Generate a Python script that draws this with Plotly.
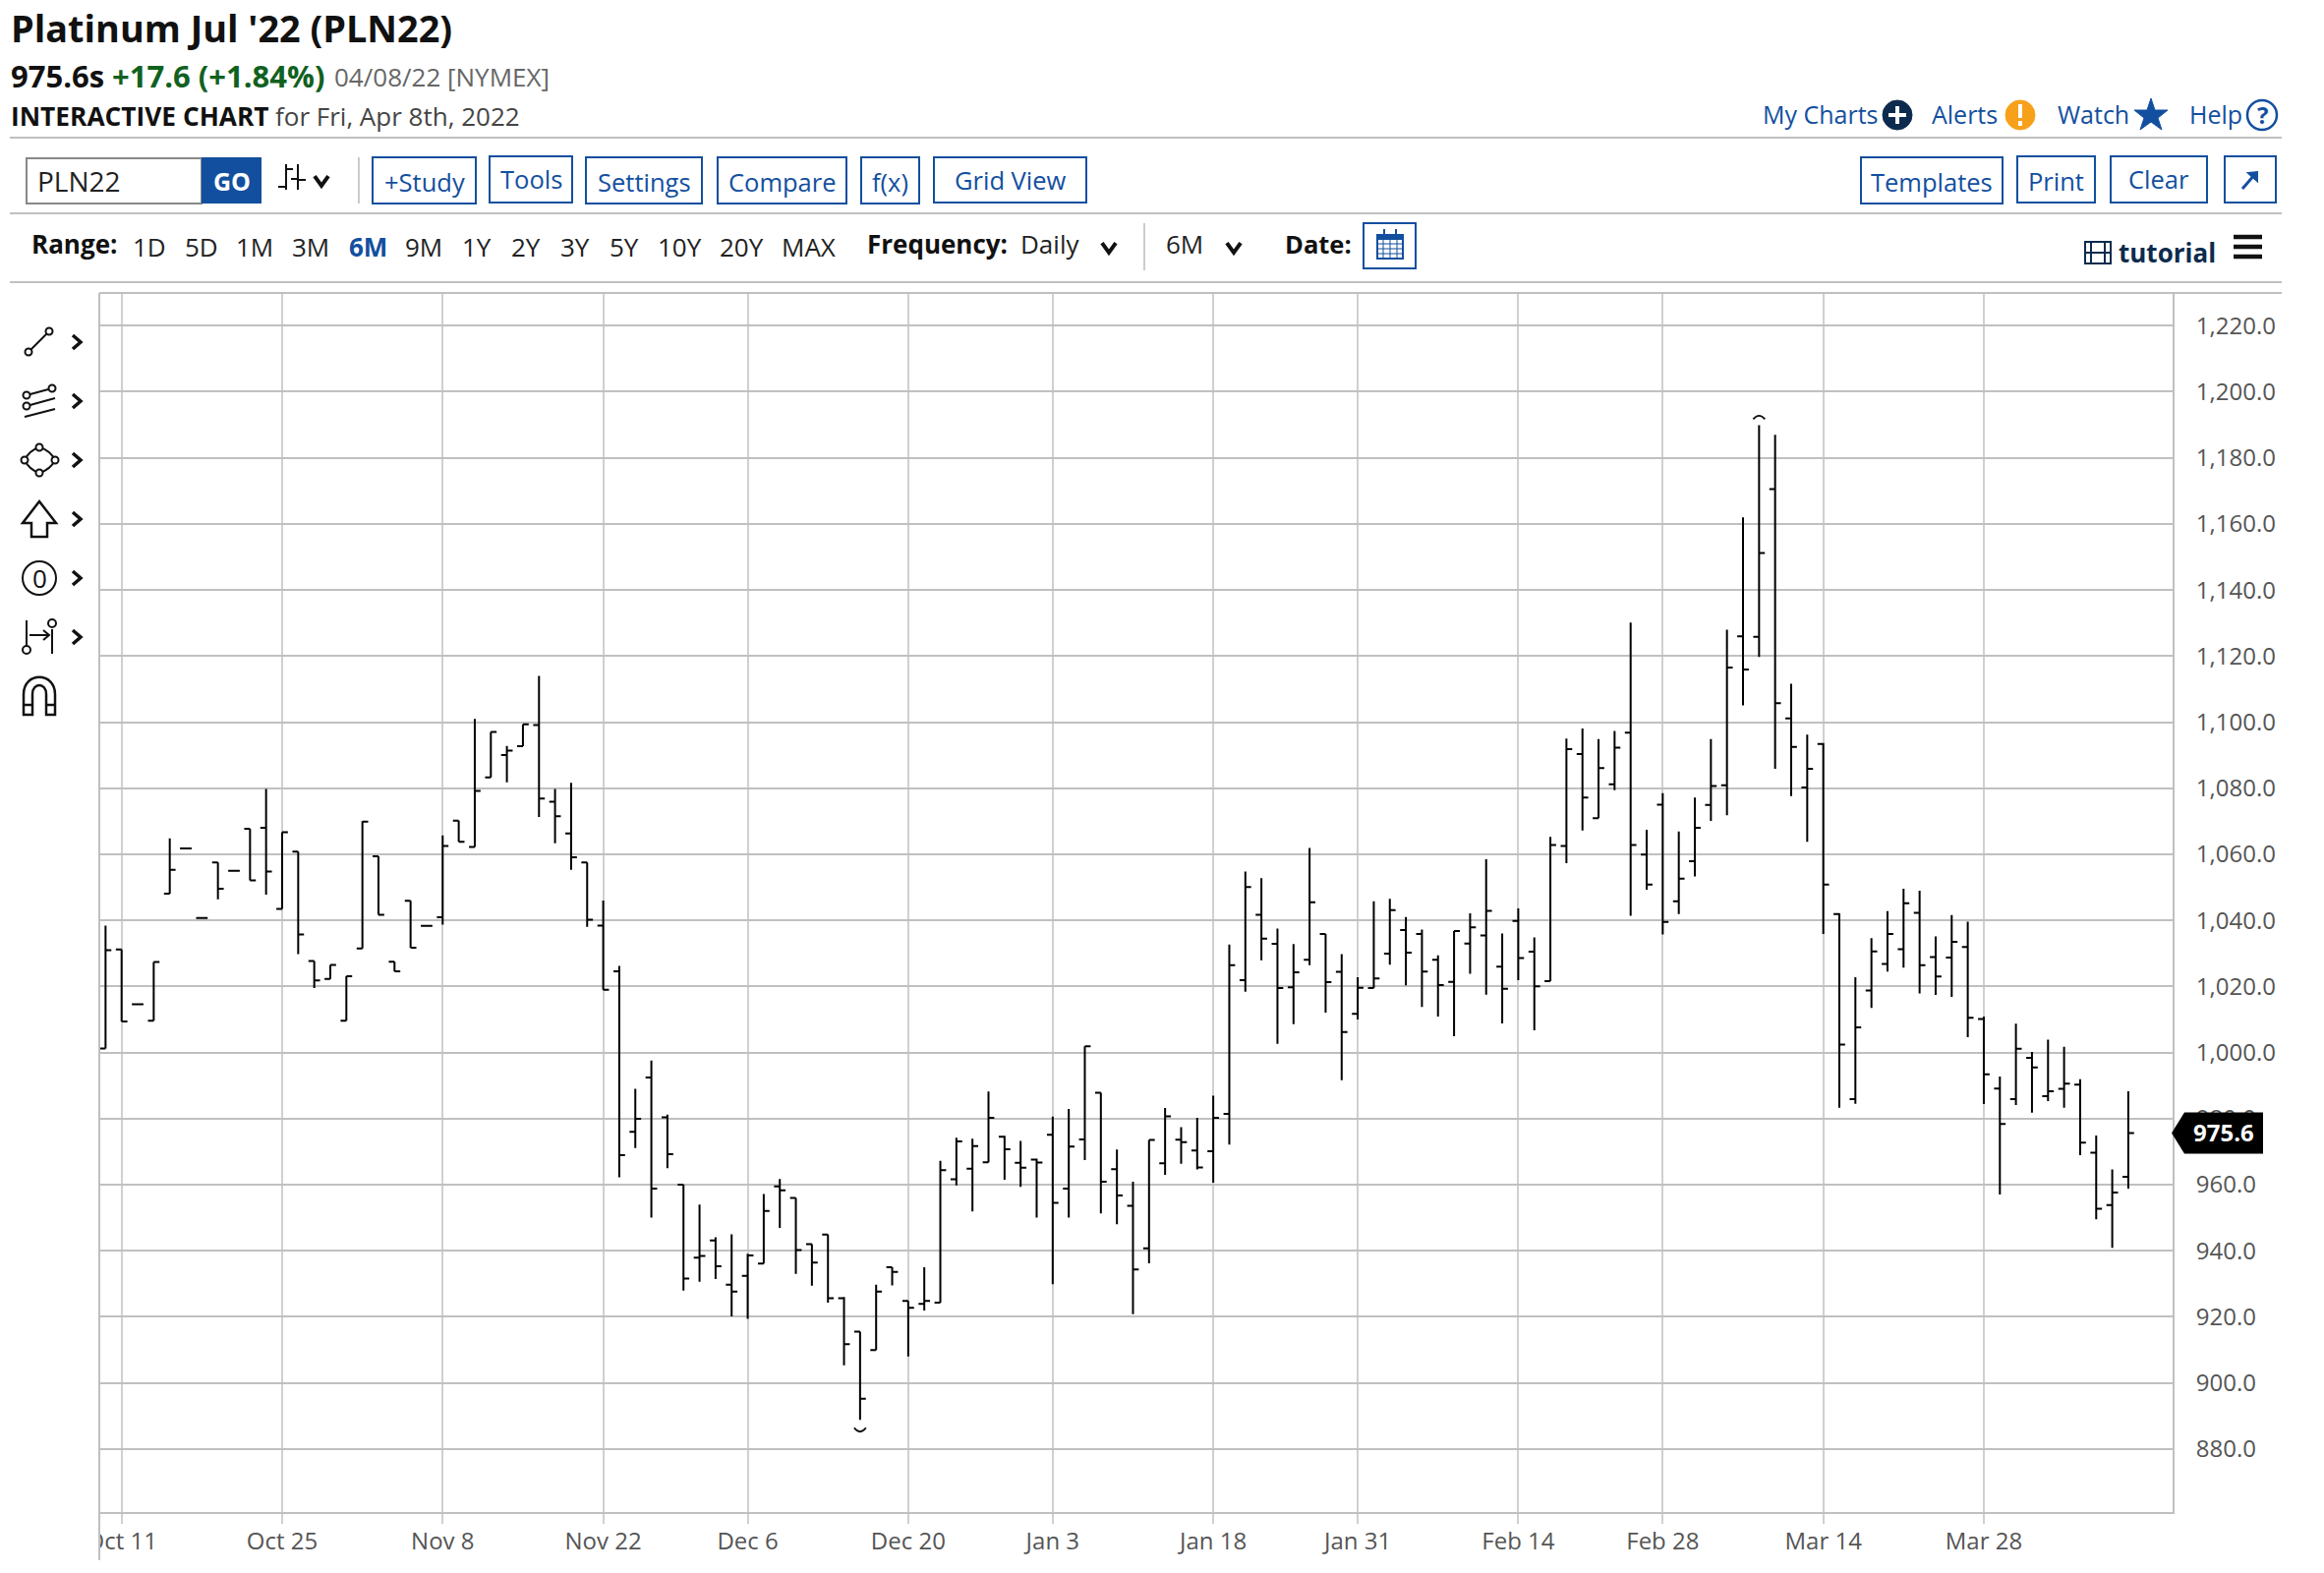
import pandas as pd
import plotly.graph_objects as go

# ---------- data ----------
holidays = ["2021-11-25", "2021-12-24", "2022-01-17", "2022-02-21"]
dates = [d.strftime("%Y-%m-%d") for d in pd.bdate_range("2021-10-08", "2022-04-08", freq="C", holidays=holidays)]

opens = [1001.2,1031.2,1014.6,1009.6,1048.1,1061.8,1040.7,1057.5,1055.0,1067.7,
         1068.0,1043.5,1060.8,1027.7,1022.3,1009.6,1031.5,1059.4,1027.5,1045.9,
         1038.3,1040.9,1070.2,1062.2,1083.3,1090.0,1092.7,1099.1,1075.9,1066.3,
         1057.5,1038.4,1024.6,976.0,992.4,980.4,960.0,937.9,943.1,929.7,
         932.4,936.1,959.5,956.0,942.0,944.9,925.6,915.5,909.9,935.0,
         924.8,923.9,924.3,961.6,964.8,966.8,974.5,966.6,967.6,975.1,
         958.8,973.7,987.8,964.7,953.6,940.7,966.5,973.6,970.3,970.1,
         981.4,1021.9,1041.7,1032.9,1019.7,1028.1,1035.9,1024.4,1011.7,1019.5,
         1029.9,1037.1,1035.9,1028.1,1021.4,1033.0,1035.4,1026.0,1039.8,1030.5,
         1021.6,1062.5,1090.3,1070.9,1081.2,1096.8,1059.9,1075.0,1045.8,1057.9,
         1074.9,1080.9,1126.0,1125.8,1170.5,1101.1,1080.2,1093.4,1041.9,985.9,
         1018.8,1026.8,1031.3,1042.3,1028.9,1028.7,1031.9,1010.1,989.1,985.9,
         998.4,986.8,989.0,990.3,969.7,953.8,962.4]
highs = [1038.4,1031.2,1014.6,1027.4,1064.8,1061.8,1040.7,1057.5,1055.0,1067.7,
         1079.8,1066.7,1060.8,1027.7,1026.5,1023.1,1070.0,1059.4,1027.5,1045.9,
         1038.3,1065.7,1070.2,1101.0,1097.0,1092.8,1099.3,1114.0,1079.8,1081.6,
         1057.5,1046.0,1026.2,989.0,997.6,981.2,960.0,954.0,944.1,945.0,
         939.1,957.2,961.7,956.0,942.0,944.9,926.0,915.5,929.7,935.0,
         924.8,935.0,967.2,974.2,973.9,988.2,974.8,973.2,967.9,980.6,
         982.9,1001.9,987.8,970.6,960.9,973.5,983.2,977.4,980.2,986.9,
         1032.7,1054.8,1052.8,1037.5,1032.8,1061.9,1035.9,1029.8,1022.8,1045.8,
         1046.5,1041.0,1037.2,1029.4,1036.8,1042.1,1058.5,1036.0,1043.6,1034.8,
         1065.3,1095.0,1098.1,1094.9,1097.3,1130.1,1067.4,1078.5,1066.9,1077.2,
         1094.9,1128.0,1162.0,1189.9,1187.0,1111.6,1096.2,1093.7,1042.1,1022.8,
         1034.6,1042.8,1049.6,1049.0,1035.1,1041.6,1039.6,1010.9,992.7,1008.7,
         1000.2,1003.9,1001.7,991.9,974.9,964.6,988.3]
lows = [1001.2,1009.4,1014.6,1009.6,1048.1,1061.8,1040.7,1046.4,1055.0,1052.1,
        1047.8,1043.5,1029.8,1019.5,1022.3,1009.6,1031.5,1041.7,1024.6,1031.7,
        1038.3,1038.7,1063.8,1062.2,1083.3,1081.8,1092.7,1071.3,1063.3,1055.3,
        1038.0,1019.0,962.2,971.1,950.0,965.0,927.9,930.6,931.4,920.1,
        919.4,936.1,946.9,933.0,929.4,924.3,905.3,888.8,909.9,929.5,
        908.0,921.9,924.3,959.8,951.9,966.8,961.5,959.3,950.0,929.9,
        950.0,967.4,951.3,948.0,920.8,936.2,963.0,966.3,964.6,960.6,
        972.1,1018.4,1027.9,1002.6,1008.6,1026.4,1012.1,991.6,1010.0,1019.5,
        1026.6,1020.3,1013.8,1010.9,1004.9,1023.8,1017.5,1008.8,1021.9,1006.7,
        1021.6,1057.3,1067.2,1070.9,1079.4,1041.4,1049.3,1035.7,1041.9,1053.3,
        1070.1,1071.8,1105.1,1119.7,1085.9,1077.6,1063.8,1035.9,983.3,984.5,
        1013.5,1024.5,1025.7,1017.9,1017.4,1016.8,1004.6,984.4,957.0,984.1,
        981.8,985.3,983.3,968.9,949.5,940.9,958.8]
closes = [1031.0,1009.4,1014.6,1027.4,1055.3,1061.8,1040.7,1049.6,1055.0,1052.1,
          1054.8,1066.7,1035.7,1021.8,1026.5,1023.1,1069.9,1041.7,1024.6,1031.7,
          1038.3,1062.5,1063.8,1079.2,1097.0,1091.4,1099.3,1076.9,1071.5,1059.1,
          1040.2,1019.0,968.9,979.9,958.8,969.2,931.6,938.4,935.3,927.6,
          938.6,952.0,958.3,940.2,936.4,925.6,911.7,895.2,927.6,933.6,
          922.7,924.8,964.4,973.1,971.7,980.2,970.7,965.1,966.7,954.5,
          971.5,1001.9,960.9,956.7,934.3,973.5,980.7,972.9,965.2,980.2,
          1026.4,1050.1,1034.5,1019.5,1024.3,1045.5,1021.3,1006.2,1019.6,1022.4,
          1043.1,1030.2,1024.5,1020.4,1036.8,1037.9,1042.9,1019.3,1028.6,1020.0,
          1062.8,1091.8,1077.2,1086.1,1092.3,1062.8,1050.8,1039.5,1052.6,1068.0,
          1080.7,1116.5,1115.9,1151.2,1105.7,1092.5,1085.9,1050.8,1002.4,1007.6,
          1030.6,1035.9,1045.2,1026.4,1023.0,1033.5,1010.5,993.4,978.4,1001.1,
          995.5,988.3,990.6,972.7,952.7,957.6,975.6]

x_tick_dates = ["2021-10-11","2021-10-25","2021-11-08","2021-11-22","2021-12-06","2021-12-20",
                "2022-01-03","2022-01-18","2022-01-31","2022-02-14","2022-02-28","2022-03-14","2022-03-28"]
x_tick_labels = ["Oct 11","Oct 25","Nov 8","Nov 22","Dec 6","Dec 20","Jan 3","Jan 18","Jan 31",
                 "Feb 14","Feb 28","Mar 14","Mar 28"]
y_ticks = [880,900,920,940,960,980,1000,1020,1040,1060,1080,1100,1120,1140,1160,1180,1200,1220]

# ---------- page geometry ----------
W, H = 2364, 1600
L, R, T, B = 101, 2210, 298, 1538
BLUE, NAVY, GREY, FONT = "#134f9f", "#0d2b4e", "#c0c0c0", "Open Sans"
px = lambda x: (x - L) / (R - L)
py = lambda y: (B - y) / (B - T)

shapes, notes = [], []

def text(x, y, s, size=26, color="#222", weight=400, anchor="left"):
    notes.append(dict(xref="paper", yref="paper", x=px(x), y=py(y), text=s, showarrow=False,
                      xanchor=anchor, yanchor="middle", borderpad=0,
                      font=dict(family=FONT, size=size, color=color, weight=weight)))

def path(points, color="#111", width=2, fill=None, closed=False):
    d = "M " + " L ".join(f"{px(a):.5f},{py(b):.5f}" for a, b in points) + (" Z" if closed else "")
    shapes.append(dict(type="path", xref="paper", yref="paper", path=d, layer="above",
                       line=dict(color=color, width=width), fillcolor=fill))

def line(x0, y0, x1, y1, color="#111", width=2):
    shapes.append(dict(type="line", xref="paper", yref="paper", x0=px(x0), y0=py(y0), x1=px(x1), y1=py(y1),
                       layer="above", line=dict(color=color, width=width)))

def box(x0, y0, x1, y1, line_color=None, width=2, fill=None):
    shapes.append(dict(type="rect", xref="paper", yref="paper", x0=px(x0), y0=py(y0), x1=px(x1), y1=py(y1),
                       layer="above", line=dict(color=line_color or "rgba(0,0,0,0)", width=width if line_color else 0),
                       fillcolor=fill or "rgba(0,0,0,0)"))

def circle(cx, cy, r, line_color="#111", width=2, fill=None):
    shapes.append(dict(type="circle", xref="paper", yref="paper", x0=px(cx - r), y0=py(cy - r), x1=px(cx + r), y1=py(cy + r),
                       layer="above", line=dict(color=line_color, width=width), fillcolor=fill or "#ffffff"))

def chevron_down(cx, cy, color="#111", s=7):
    path([(cx - s, cy - s * 0.7), (cx, cy + s * 0.7), (cx + s, cy - s * 0.7)], color, 4)

def chevron_right(cx, cy):
    path([(cx - 4, cy - 7), (cx + 4, cy), (cx - 4, cy + 7)], "#111", 3.5)

# ---------- header ----------
text(10, 29, "Platinum Jul '22 (PLN22)", 37.8, "#111", 700)
text(10, 77, "975.6s", 31, "#111", 700)
text(113, 77, "+17.6 (+1.84%)", 31, "#11611f", 700)
text(339, 78, "04/08/22 [NYMEX]", 26, "#666", 400)
text(10, 118, "INTERACTIVE CHART", 26.3, "#111", 700)
text(279, 118, "for Fri, Apr 8th, 2022", 26, "#444", 400)

for yy in (140, 217, 287):
    line(10, yy, 2321, yy, GREY, 2)
line(101, 298, 2321, 298, GREY, 2)

# top links
text(1792, 116, "My Charts", 25, BLUE)
circle(1930, 117, 15, NAVY, 1, NAVY)
line(1921, 117, 1939, 117, "#fff", 4); line(1930, 108, 1930, 126, "#fff", 4)
text(1964, 116, "Alerts", 25, BLUE)
circle(2055, 117, 15, "#f7a11a", 1, "#f7a11a")
line(2055, 106, 2055, 120, "#fff", 4); line(2055, 123, 2055, 128, "#fff", 4)
text(2092, 116, "Watch", 25, BLUE)
path([(2188,100),(2192,112),(2205,112),(2195,120),(2199,132),(2188,124),(2177,132),(2181,120),(2171,112),(2184,112)],
     BLUE, 1, BLUE, True)
text(2226, 116, "Help", 25, BLUE)
circle(2301, 117, 15, BLUE, 2.5)
text(2301, 117, "?", 24, BLUE, 700, "center")

# toolbar
box(27, 161, 205, 207, "#888", 2, "#fff")
text(37, 184, "PLN22", 28, "#222")
box(205, 160, 266, 207, None, 0, BLUE)
text(235.5, 184, "GO", 25, "#fff", 700, "center")
line(291, 167, 291, 193); line(303, 167, 303, 193)
line(283, 190, 291, 190); line(291, 172, 298, 172); line(296, 182, 303, 182); line(303, 183, 311, 183)
chevron_down(327, 184)
line(365, 160, 365, 207, "#ccc", 2)
buttons = [("+Study",379,484,160,207),("Tools",498,582,159,206),("Settings",596,714,160,207),("Compare",730,861,160,207),
           ("f(x)",876,935,160,207),("Grid View",950,1105,160,206),("Templates",1893,2037,160,207),("Print",2052,2131,159,206),
           ("Clear",2147,2245,159,206)]
for s, a, b, c, d in buttons:
    box(a, c, b, d, BLUE, 2, "#fff")
    text((a + b) / 2, (c + d) / 2 + (2 if s in ("+Study","Settings","Compare","Templates","f(x)","Print") else 0), s, 25.5, BLUE, 400, "center")
box(2263, 159, 2315, 206, BLUE, 2, "#fff")
line(2281, 192, 2294, 177, BLUE, 3)
path([(2287,176),(2296,175),(2296,184)], BLUE, 2, BLUE, True)

# range row
text(31, 248, "Range:", 26, "#111", 700)
ranges = [("1D",152),("5D",205),("1M",259),("3M",316),("6M",374),("9M",431),("1Y",485),("2Y",535),("3Y",585),
          ("5Y",635),("10Y",691),("20Y",754),("MAX",822)]
for s, xx in ranges:
    text(xx, 251, s, 26, BLUE if s == "6M" else "#222", 700 if s == "6M" else 400, "center")
text(881, 248, "Frequency:", 26, "#111", 700)
text(1037, 248, "Daily", 26, "#222")
chevron_down(1128, 252)
line(1164, 227, 1164, 275, "#ccc", 2)
text(1185, 248, "6M", 26, "#222")
chevron_down(1255, 252)
text(1306, 248, "Date:", 25.5, "#111", 700)
box(1387, 227, 1440, 273, BLUE, 2, "#fff")
box(1401, 239, 1427, 263, BLUE, 2, "#fff"); box(1401, 239, 1427, 243, BLUE, 2, BLUE)
for xx in (1407, 1414, 1421):
    line(xx, 243, xx, 263, BLUE, 1)
for yy in (248, 253, 258):
    line(1401, yy, 1427, yy, BLUE, 1)
line(1408, 233, 1408, 240, BLUE, 2); line(1420, 233, 1420, 240, BLUE, 2)
box(2121, 246, 2147, 268, NAVY, 2, "#fff")
line(2127, 246, 2127, 268, NAVY, 2); line(2141, 246, 2141, 268, NAVY, 2); line(2121, 257, 2147, 257, NAVY, 2)
text(2154, 257, "tutorial", 26, NAVY, 700)
for yy in (241, 251, 261):
    line(2272, yy, 2301, yy, "#111", 4.5)

# drawing tools
for yy in (348, 408, 468, 528, 588, 648):
    chevron_right(78, yy)
line(29, 358, 50, 337); circle(29, 358, 3.5); circle(50, 337, 3.5)
line(27, 402, 53, 395); circle(27, 402, 3.5); circle(53, 395, 3.5)
line(27, 413, 56, 405); circle(27, 413, 3.5); line(25, 424, 56, 416)
ring = [(40,455),(56,468),(40,481),(25,468)]
ctrl = [(51,458),(51,478),(30,478),(30,458)]
d = f"M {px(40):.5f},{py(455):.5f}"
for (a, b), (c, e) in zip(ring[1:] + ring[:1], ctrl):
    d += f" Q {px(c):.5f},{py(e):.5f} {px(a):.5f},{py(b):.5f}"
shapes.append(dict(type="path", xref="paper", yref="paper", path=d, layer="above", line=dict(color="#111", width=2)))
for a, b in ring:
    circle(a, b, 3.5)
path([(40,510),(57,532),(48,532),(48,546),(32,546),(32,532),(23,532)], "#111", 2.5, None, True)
circle(40, 588, 17)
text(40, 588, "0", 26, "#111", 400, "center")
line(27, 631, 27, 657); circle(27, 661, 4); line(30, 646, 50, 646)
path([(44,641),(50,646),(44,651)], "#111", 2)
line(53, 640, 53, 665); circle(53, 634, 4)
shapes.append(dict(type="path", xref="paper", yref="paper", layer="above", line=dict(color="#111", width=2.5),
                   path=f"M {px(24):.5f},{py(727):.5f} L {px(24):.5f},{py(706):.5f} C {px(24):.5f},{py(683):.5f} {px(56):.5f},{py(683):.5f} {px(56):.5f},{py(706):.5f} L {px(56):.5f},{py(727):.5f} L {px(47):.5f},{py(727):.5f} L {px(47):.5f},{py(706):.5f} C {px(47):.5f},{py(694):.5f} {px(33):.5f},{py(694):.5f} {px(33):.5f},{py(706):.5f} L {px(33):.5f},{py(727):.5f} Z"))
line(24, 717, 33, 717, "#111", 2.5); line(47, 717, 56, 717, "#111", 2.5)

# clipped first tick label and long left rule
box(0, 1545, 100, 1600, None, 0, "#fff")
line(101, 298, 101, 1587, GREY, 2)

# high / low arcs, anchored to the data
hi = highs.index(max(highs)); lo = lows.index(min(lows))
shapes.append(dict(type="path", xref="x", yref="y", xsizemode="pixel", ysizemode="pixel", layer="above",
                   xanchor=hi, yanchor=highs[hi], path="M -6,6 Q 0,13 6,6", line=dict(color="#111", width=1.8)))
shapes.append(dict(type="path", xref="x", yref="y", xsizemode="pixel", ysizemode="pixel", layer="above",
                   xanchor=lo, yanchor=lows[lo], path="M -6,-8 Q 0,-16 6,-8", line=dict(color="#111", width=1.8)))

# price tag, anchored to the last close
tag_y = closes[-1]
shapes.append(dict(type="path", xref="paper", yref="y", ysizemode="pixel", yanchor=tag_y, layer="above",
                   path=f"M {px(2209):.5f},0 L {px(2222):.5f},21 L {px(2302):.5f},21 L {px(2302):.5f},-21 L {px(2222):.5f},-21 Z",
                   line=dict(color="#000", width=0), fillcolor="#000"))
notes.append(dict(xref="paper", yref="y", x=px(2262), y=tag_y, text=f"{tag_y:.1f}", showarrow=False, yshift=1,
                  xanchor="center", yanchor="middle", font=dict(family=FONT, size=24, color="#fff", weight=700)))

# ---------- chart ----------
fig = go.Figure(go.Ohlc(x=dates, open=opens, high=highs, low=lows, close=closes, tickwidth=0.36,
                        increasing=dict(line=dict(color="#000", width=2)),
                        decreasing=dict(line=dict(color="#000", width=2)), showlegend=False))
fig.update_layout(
    width=W, height=H, margin=dict(l=L, r=W - R, t=T, b=H - B, pad=0, autoexpand=False),
    paper_bgcolor="#fff", plot_bgcolor="#fff", showlegend=False,
    font=dict(family=FONT, color="#555", size=24),
    shapes=shapes, annotations=notes,
    xaxis=dict(type="category", categoryorder="array", categoryarray=dates, range=[-0.39, 128.76],
               rangeslider=dict(visible=False), tickmode="array", tickvals=x_tick_dates, ticktext=x_tick_labels,
               showgrid=True, gridcolor="#d0d0d0", gridwidth=2, ticks="outside", ticklen=10, tickwidth=2,
               tickcolor="#d0d0d0", showline=True, linecolor=GREY, linewidth=2, zeroline=False, ticklabelstandoff=-3,
               tickfont=dict(family=FONT, size=24, color="#555"), tickangle=0),
    yaxis=dict(side="right", range=[860.9, 1229.9], tickmode="array", tickvals=y_ticks, tickformat=",.1f",
               showgrid=True, gridcolor=GREY, gridwidth=2, ticks="outside", ticklen=17, tickcolor="rgba(0,0,0,0)",
               showline=True, linecolor=GREY, linewidth=2, zeroline=False,
               tickfont=dict(family=FONT, size=24, color="#555")),
)
fig.write_html("out.html", config=dict(displayModeBar=False),
               post_script="document.body.style.margin='0';document.body.style.overflow='hidden';")
